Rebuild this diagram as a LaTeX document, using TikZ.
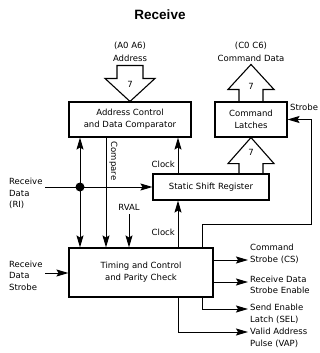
\documentclass[tikz,border=0pt]{standalone}
\usepackage{fontspec}
\setmainfont{DejaVu Sans}
\newfontfamily\headfont{Liberation Sans}
\usetikzlibrary{arrows.meta}

\tikzset{
  blk/.style={draw,line width=1.1pt,align=center,font=\fontsize{8.5}{12}\selectfont},
  lbl/.style={align=left,inner sep=0pt,font=\fontsize{8.5}{11.5}\selectfont},
  sig/.style={line width=1pt,-{Stealth[length=12pt,width=7pt,inset=2pt]}},
  bus/.style={line width=1.1pt,line join=miter},
}

\begin{document}
\begin{tikzpicture}[x=1pt,y=-1pt]
\useasboundingbox (0,0) rectangle (320,353);
\node (ttl) at (160,15) {\headfont\fontsize{13.5}{15}\selectfont\bfseries Receive};
% blocks
\node[blk,minimum width=122pt,minimum height=35pt] (addr) at (130,119.5) {Address Control\\and Data Comparator};
\node[blk,minimum width=72pt,minimum height=35pt] (latch) at (251,119.5) {Command\\Latches};
\node[blk,minimum width=116pt,minimum height=26pt] (shift) at (211,187) {Static Shift Register};
\node[blk,minimum width=144pt,minimum height=49pt] (tim) at (141,272.5) {Timing and Control\\and Parity Check};
% labels
\node[lbl,align=center] (adrlbl) at (130,52) {(A0 A6)\\[2pt]Address};
\node[lbl,align=center] (cmdlbl) at (251,52) {(C0 C6)\\[2pt]Command Data};
\node[lbl,anchor=west] (stblbl) at (290,107) {Strobe};
\node[lbl,anchor=west] (rilbl) at (9,193.5) {Receive\\Data\\(RI)};
\node[lbl,anchor=west] (rdslbl) at (9,275.5) {Receive\\Data\\Strobe};
\node[lbl,anchor=west] (cslbl) at (250,254) {Command\\Strobe (CS)};
\node[lbl,anchor=west] (rdselbl) at (250,285) {Receive Data\\Strobe Enable};
\node[lbl,anchor=west] (sellbl) at (250,314) {Send Enable\\Latch (SEL)};
\node[lbl,anchor=west] (vaplbl) at (250,338) {Valid Address\\Pulse (VAP)};
\node[lbl] (rvallbl) at (129,207) {RVAL};
\node[lbl,rotate=-90] (cmplbl) at (113.5,161) {Compare};
\node[lbl,anchor=east] (clk1lbl) at (175,164) {Clock};
\node[lbl,anchor=east] (clk2lbl) at (175,232) {Clock};
% wide arrows
\draw[bus] (addr.north) -- ++(25,-23) -- ++(-12,0) -- ++(0,-13) -- ++(-26,0) -- ++(0,13) -- ++(-12,0) -- cycle;
\node[lbl] (n1) at (130,84) {7};
\draw[bus] ([xshift=-12pt]latch.north) -- ++(0,-12) -- ++(-11,0) -- ++(23,-25) -- ++(23,25) -- ++(-11,0) -- ++(0,12);
\node[lbl] (n2) at (251,86) {7};
\draw[bus] ([shift={(-12,37)}]latch.south) -- ++(0,-11) -- ++(-11,0) -- (latch.south) -- ++(23,26) -- ++(-11,0) -- ++(0,11);
\node[lbl] (n3) at (251,152) {7};
% signals
\coordinate (dot) at (80,187);
\coordinate (ri) at (45,187);
\coordinate (cmp) at (106,190);
\coordinate (clk) at (178,190);
\coordinate (strb) at (202,224);
\coordinate (strbR) at (311,224);
\coordinate (rds) at (45,273);
\coordinate (cs) at (248,260);
\coordinate (rdse) at (248,282);
\coordinate (sel) at (248,309);
\coordinate (vap) at (248,332);
\draw[sig] (ri) -- (shift.west |- ri);
\fill (dot) circle (4.5pt);
\draw[sig] (dot) -- (dot |- addr.south);
\draw[sig] (dot) -- (dot |- tim.north);
\draw[sig] (addr.south -| cmp) -- (tim.north -| cmp);
\draw[sig] (shift.north -| clk) -- (addr.south -| clk);
\draw[sig] (tim.north -| clk) -- (shift.south -| clk);
\draw[sig] ([yshift=-4pt]rvallbl.south) -- (rvallbl.south |- tim.north);
\draw[sig] (tim.north -| strb) -- (strb) -- (strbR) |- (latch.east);
\draw[sig] (rds) -- (rds -| tim.west);
\draw[sig] (cs -| tim.east) -- (cs);
\draw[sig] (rdse -| tim.east) -- (rdse);
\draw[sig] (tim.south -| strb) |- (sel);
\draw[sig] (tim.south -| clk) |- (vap);
\end{tikzpicture}
\end{document}
